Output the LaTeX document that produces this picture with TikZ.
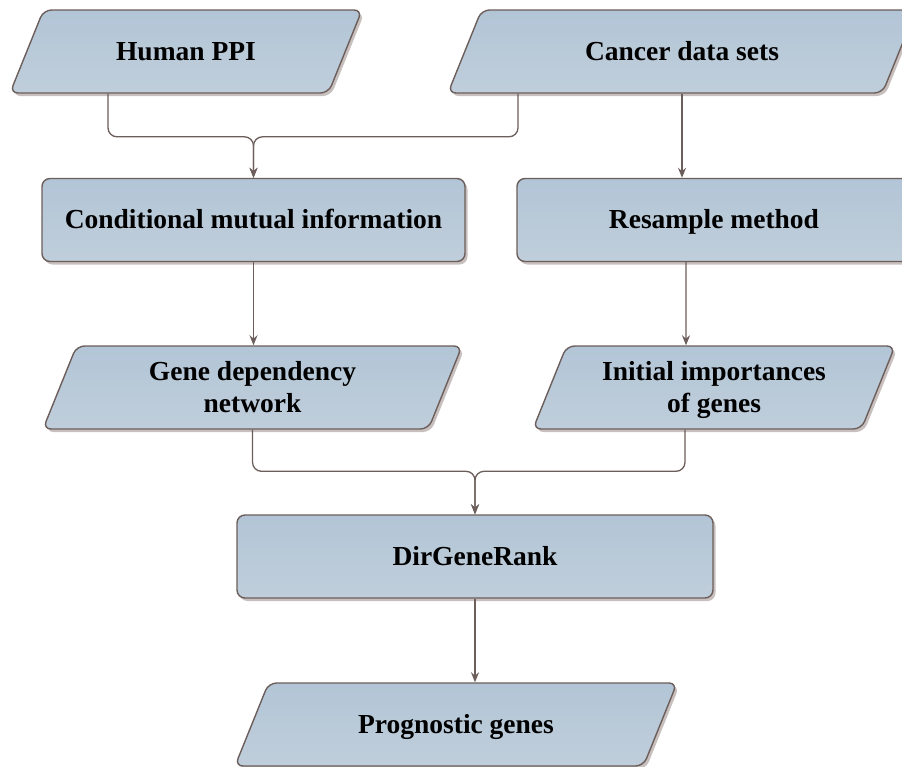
\documentclass[tikz,border=0pt]{standalone}
\usepackage{fontspec}
\setmainfont{Liberation Serif}
\usepackage{tikz}
\usetikzlibrary{shapes}
\usetikzlibrary{shadows}
\usetikzlibrary{arrows.meta}
\definecolor{boxtop}{RGB}{178,197,214}
\definecolor{boxbottom}{RGB}{192,206,219}
\definecolor{boxline}{RGB}{108,94,90}
\definecolor{boxshadow}{RGB}{200,192,190}
% fixed height text block, so the slant of the data boxes keeps its angle
\newcommand{\boxtext}[1]{\vbox to 83pt{\vfil\hbox{\begin{tabular}{@{}c@{}}#1\end{tabular}}\vfil\kern-5pt}}

\begin{document}
\begin{tikzpicture}[x=1pt, y=-1pt,
  box/.style={draw=boxline, line width=1.4pt, rounded corners=8pt,
    top color=boxtop, bottom color=boxbottom,
    drop shadow={shadow xshift=2.5pt, shadow yshift=-3pt, fill=boxshadow, opacity=1},
    font=\fontsize{27.5}{32}\selectfont\bfseries, inner sep=0pt},
  databox/.style={box, trapezium, trapezium left angle=68,
    trapezium right angle=112, trapezium stretches body=true},
  flow/.style={draw=boxline, line width=1.3pt, rounded corners=9pt,
    -{Stealth[length=10pt, width=8pt]}}]
  \useasboundingbox (0,0) rectangle (902,766);

  % inputs
  \node[databox, minimum width=352pt] (hppi) at (186,51.5) {\boxtext{Human PPI}};
  \node[databox, minimum width=468pt] (cds) at (682,51.5) {\boxtext{Cancer data sets}};

  % methods
  \node[box, minimum width=423pt] (cmi) at (253.5,220) {\boxtext{Conditional mutual information}};
  \node[box, minimum width=394pt] (rsm) at (714,220) {\boxtext{Resample method}};

  % intermediate results
  \node[databox, minimum width=419pt] (gdn) at (252.5,387.5) {\boxtext{Gene dependency\\network}};
  \node[databox, minimum width=362pt] (iig) at (714,387.5) {\boxtext{Initial importances\\of genes}};

  \node[box, minimum width=476pt] (dgr) at (475,556.5) {\boxtext{DirGeneRank}};
  \node[databox, minimum width=442pt] (prg) at (456,724.5) {\boxtext{Prognostic genes}};

  \draw[flow] ([xshift=-78pt]hppi.south) |- ([yshift=41pt]cmi.north) -- (cmi.north);
  \draw[flow] ([xshift=-164pt]cds.south) |- ([yshift=41pt]cmi.north) -- (cmi.north);
  \draw[flow] (cds.south) -- (cds.south |- rsm.north);
  \draw[flow] (cmi.south) -- (cmi.south |- gdn.north);
  \draw[flow] ([xshift=-28pt]rsm.south) -- ([xshift=-28pt]iig.north);
  \draw[flow] (gdn.south) |- ([yshift=43pt]dgr.north) -- (dgr.north);
  \draw[flow] ([xshift=-29pt]iig.south) |- ([yshift=43pt]dgr.north) -- (dgr.north);
  \draw[flow] (dgr.south) -- (dgr.south |- prg.north);
\end{tikzpicture}
\end{document}
